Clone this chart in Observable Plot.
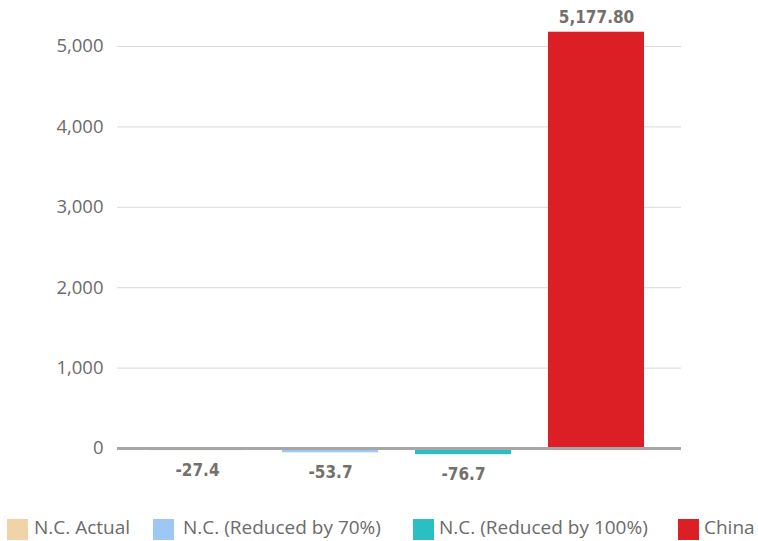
<!DOCTYPE html>
<html>
<head>
<meta charset="utf-8">
<script src="https://cdn.jsdelivr.net/npm/d3@7"></script>
<script src="https://cdn.jsdelivr.net/npm/@observablehq/plot@0.6"></script>
<style>
  body { margin: 0; background: #fff; font-family: "Open Sans", sans-serif; }
  #chart { width: 758px; position: relative; }
  .legend { position: relative; height: 36px; font-size: 19px; color: #6b6b6b; white-space: nowrap; }
  .legend .sw { position: absolute; top: 14px; width: 21px; height: 21px; }
  .legend .lbl { position: absolute; top: 8px; line-height: 28px; }
</style>
</head>
<body>
<div id="chart"></div>
<script>
const categories = ["N.C. Actual", "N.C. (Reduced by 70%)", "N.C. (Reduced by 100%)", "China"];
const values = [-27.4, -53.7, -76.7, 5177.80];
const labels = ["-27.4", "-53.7", "-76.7", "5,177.80"];
const colors = ["#f0d3a6", "#9dc8f3", "#2bbfc3", "#dc1e25"];
const yTicks = [0, 1000, 2000, 3000, 4000, 5000];

// layout only
const legendSwatchLeft = [7, 153, 413, 678];
const legendTextLeft = [34, 183, 439, 704];

const data = categories.map((c, i) => ({ category: c, value: values[i], label: labels[i], color: colors[i] }));

const labelFont = "'DejaVu Sans Condensed', 'DejaVu Sans', sans-serif";

const plot = Plot.plot({
  width: 758,
  height: 505,
  marginLeft: 117,
  marginRight: 77,
  marginTop: 0,
  marginBottom: 0,
  style: { fontFamily: "'Open Sans', sans-serif", color: "#666", background: "#fff" },
  x: { domain: categories, range: [117, 676], paddingInner: 0.278, paddingOuter: 0.24, axis: null },
  y: { domain: [0, 5000], range: [448, 46], axis: null, label: null },
  marks: [
    Plot.gridY(yTicks, { stroke: "#d9d9d9", strokeOpacity: 1, strokeWidth: 1 }),
    Plot.axisY(yTicks, { tickSize: 0, tickPadding: 14, fontSize: 18.5, tickFormat: d3.format(","), fill: "#6b6b6b", label: null }),
    Plot.barY(data, { x: "category", y: "value", fill: "color" }),
    Plot.ruleY([0], { stroke: "#a6a6a6", strokeWidth: 3 }),
    Plot.text(data.filter(d => d.value < 0), {
      x: "category", y: "value", text: "label", dy: 20,
      fontFamily: labelFont, fontWeight: "bold", fontSize: 17, fill: "#75706c"
    }),
    Plot.text(data.filter(d => d.value >= 0), {
      x: "category", y: "value", text: "label", dy: -15,
      fontFamily: labelFont, fontWeight: "bold", fontSize: 17, fill: "#75706c"
    })
  ]
});
d3.select(plot).selectAll("g[aria-label='text'] text").style("font-stretch", "condensed");
document.getElementById("chart").appendChild(plot);

const legend = document.createElement("div");
legend.className = "legend";
data.forEach((d, i) => {
  const sw = document.createElement("span");
  sw.className = "sw";
  sw.style.background = d.color;
  sw.style.left = legendSwatchLeft[i] + "px";
  const t = document.createElement("span");
  t.className = "lbl";
  t.style.left = legendTextLeft[i] + "px";
  t.textContent = d.category;
  legend.appendChild(sw);
  legend.appendChild(t);
});
document.getElementById("chart").appendChild(legend);
</script>
</body>
</html>
